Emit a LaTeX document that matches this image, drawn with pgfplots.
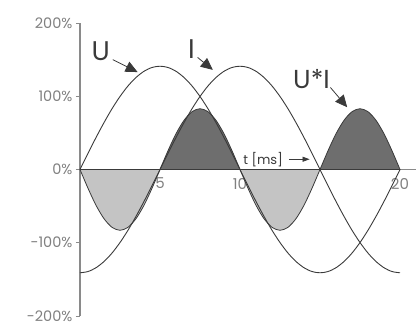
\documentclass[border=0pt]{standalone}
\usepackage{fontspec}
\setmainfont{Poppins}
\usepackage{pgfplots}
\pgfplotsset{compat=1.18}
\usetikzlibrary{arrows.meta}
\definecolor{curve}{HTML}{3A3A3A}
\definecolor{axisgray}{HTML}{8A8A8A}
\definecolor{labelgray}{HTML}{808080}
\definecolor{lightlobe}{HTML}{C4C4C4}
\definecolor{darklobe}{HTML}{6E6E6E}
\begin{document}
\begin{tikzpicture}
\begin{axis}[
    scale only axis,
    width=336pt, height=293pt,
    xmin=0, xmax=21, ymin=-200, ymax=200,
    axis x line=middle, axis y line=left,
    axis line style={-, draw=axisgray, line width=1.1pt},
    xtick={5,10,20}, xticklabels={5,10,20},
    xtick style={draw=none},
    x tick label style={anchor=north, yshift=-1pt, font=\fontsize{15}{15}\selectfont, text=labelgray},
    ytick={-200,-100,0,100,200},
    yticklabels={-200\%,-100\%,0\%,100\%,200\%},
    y tick label style={font=\fontsize{14.5}{14.5}\selectfont, text=labelgray},
    ytick style={draw=axisgray, line width=0.8pt},
    tick align=outside,
    major tick length=4pt,
    clip=false,
]
% U*I lobes
\addplot[fill=lightlobe, draw=curve, line width=0.8pt, smooth] coordinates {
 (0,0) (0.5,-25.6) (1,-48.8) (1.5,-67.1) (2,-78.9) (2.5,-83) (3,-78.9) (3.5,-67.1) (4,-48.8) (4.5,-25.6) (5,0)
} \closedcycle;
\addplot[fill=darklobe, draw=curve, line width=0.8pt, smooth] coordinates {
 (5,0) (5.5,25.6) (6,48.8) (6.5,67.1) (7,78.9) (7.5,83) (8,78.9) (8.5,67.1) (9,48.8) (9.5,25.6) (10,0)
} \closedcycle;
\addplot[fill=lightlobe, draw=curve, line width=0.8pt, smooth] coordinates {
 (10,0) (10.5,-25.6) (11,-48.8) (11.5,-67.1) (12,-78.9) (12.5,-83) (13,-78.9) (13.5,-67.1) (14,-48.8) (14.5,-25.6) (15,0)
} \closedcycle;
\addplot[fill=darklobe, draw=curve, line width=0.8pt, smooth] coordinates {
 (15,0) (15.5,25.6) (16,48.8) (16.5,67.1) (17,78.9) (17.5,83) (18,78.9) (18.5,67.1) (19,48.8) (19.5,25.6) (20,0)
} \closedcycle;
% U
\addplot[curve, line width=0.9pt, smooth] coordinates {
 (0,0) (0.5,22.1) (1,43.6) (1.5,64.0) (2,82.9) (2.5,99.7) (3,114.1) (3.5,125.6) (4,134.1) (4.5,139.3)
 (5,141) (5.5,139.3) (6,134.1) (6.5,125.6) (7,114.1) (7.5,99.7) (8,82.9) (8.5,64.0) (9,43.6) (9.5,22.1)
 (10,0) (10.5,-22.1) (11,-43.6) (11.5,-64.0) (12,-82.9) (12.5,-99.7) (13,-114.1) (13.5,-125.6) (14,-134.1) (14.5,-139.3)
 (15,-141) (15.5,-139.3) (16,-134.1) (16.5,-125.6) (17,-114.1) (17.5,-99.7) (18,-82.9) (18.5,-64.0) (19,-43.6) (19.5,-22.1)
 (20,0)
};
% I
\addplot[curve, line width=0.9pt, smooth] coordinates {
 (0,-141) (0.5,-139.3) (1,-134.1) (1.5,-125.6) (2,-114.1) (2.5,-99.7) (3,-82.9) (3.5,-64.0) (4,-43.6) (4.5,-22.1)
 (5,0) (5.5,22.1) (6,43.6) (6.5,64.0) (7,82.9) (7.5,99.7) (8,114.1) (8.5,125.6) (9,134.1) (9.5,139.3)
 (10,141) (10.5,139.3) (11,134.1) (11.5,125.6) (12,114.1) (12.5,99.7) (13,82.9) (13.5,64.0) (14,43.6) (14.5,22.1)
 (15,0) (15.5,-22.1) (16,-43.6) (16.5,-64.0) (17,-82.9) (17.5,-99.7) (18,-114.1) (18.5,-125.6) (19,-134.1) (19.5,-139.3)
 (20,-141)
};
% labels and arrows
\node[font=\fontsize{27}{27}\selectfont, text=curve] at (axis cs:1.3,161) {U};
\draw[curve, line width=0.8pt, -{Triangle[length=12pt,width=11pt]}] (axis cs:2.05,150) -- (axis cs:3.6,133);
\node[font=\fontsize{27}{27}\selectfont, text=curve] at (axis cs:6.97,165) {I};
\draw[curve, line width=0.8pt, -{Triangle[length=12pt,width=11pt]}] (axis cs:7.35,153) -- (axis cs:8.3,136);
\node[font=\fontsize{26}{26}\selectfont, text=curve] at (axis cs:14.47,124) {U*I};
\draw[curve, line width=0.8pt, -{Triangle[length=12pt,width=11pt]}] (axis cs:15.65,112) -- (axis cs:16.7,85);
\node[font=\fontsize{13}{13}\selectfont, text=curve, anchor=west, inner sep=0pt] at (axis cs:10.2,14) {t [ms]};
\draw[curve, line width=0.7pt, -{Triangle[length=7pt,width=5pt]}] (axis cs:13.05,14) -- (axis cs:14.35,14);
\coordinate (bl) at (axis cs:-5,-215);
\coordinate (tr) at (axis cs:21,231.4);
\end{axis}
\pgfresetboundingbox
\path[use as bounding box] (bl) rectangle (tr);
\end{tikzpicture}
\end{document}
